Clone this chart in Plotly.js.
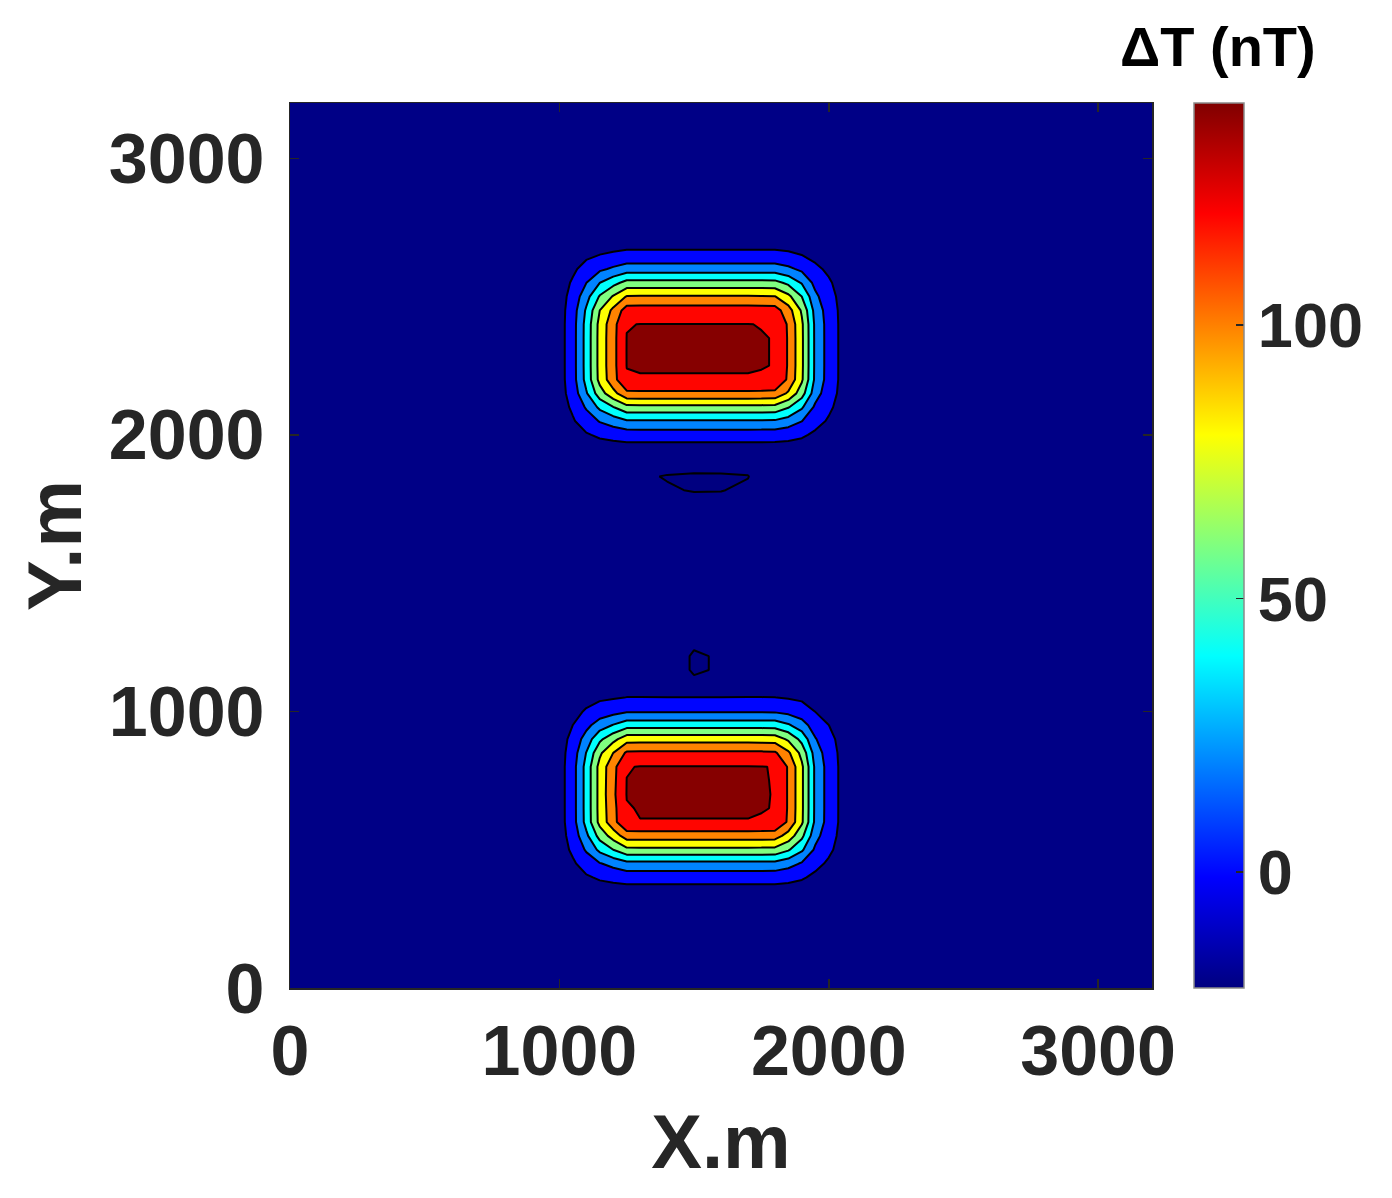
<!DOCTYPE html>
<html>
<head>
<meta charset="utf-8">
<script src="https://cdn.plot.ly/plotly-3.0.1.min.js"></script>
<style>
  html, body { margin: 0; padding: 0; background: #ffffff; }
  #chart { width: 1392px; height: 1198px; }
</style>
</head>
<body>
<div id="chart"></div>
<script>
// ---- data ----
// grid sample positions (m)
const xGrid = [0, 1000, 1050, 1100, 1150, 1200, 1250, 1300, 1400, 1500, 1600, 1700, 1750, 1800, 1850, 1900, 1950, 2000, 2050, 2100, 3200];
const yGrid = [0, 350, 400, 450, 500, 550, 600, 650, 700, 750, 800, 850, 900, 950, 1000, 1050,
               1100, 1150, 1200, 1250, 1300, 1750, 1800, 1850, 1900, 1950,
               2000, 2050, 2100, 2150, 2200, 2250, 2300, 2350, 2400, 2450, 2500, 2550, 2600, 2650, 2700, 3200];

// ΔT (nT), one row per yGrid value, one column per xGrid value
const deltaT = [
  [-8, -8, -8, -8, -8, -8, -8, -8, -8, -8, -8, -8, -8, -8, -8, -8, -8, -8, -8, -8, -8],
  [-8, -8, -8, -8, -8, -8, -8, -8, -8, -8, -8, -8, -8, -8, -8, -8, -8, -8, -8, -8, -8],
  [-8, -8, -5.9, -2.1, 2.2, 5.1, 7.9, 7.9, 7.9, 7.9, 7.9, 7.9, 7.9, 7.8, 5.5, 1.8, -3.3, -5.9, -7.7, -8, -8],
  [-8, -8, -2.4, 7.5, 18.8, 26.4, 33.8, 34, 34, 34, 34, 34, 33.9, 33.7, 27.5, 17.9, 4.4, -2.4, -7.2, -8, -8],
  [-8, -8, 3.1, 22.6, 44.9, 60, 74.6, 75, 75, 75, 75, 75, 74.7, 74.3, 62.2, 43.2, 16.5, 3.1, -6.3, -8, -8],
  [-8, -8, 7.8, 35.6, 67.2, 88.6, 109.5, 110, 110, 110, 110, 110, 109.6, 109, 91.8, 64.9, 26.8, 7.8, -5.6, -8, -8],
  [-8, -8, 11.8, 46.6, 86.2, 113, 139.1, 139.8, 139.8, 139.8, 139.8, 139.8, 139.3, 138.5, 117, 83.3, 35.6, 11.8, -5, -8, -8],
  [-8, -8, 12, 47, 87, 114, 139.3, 140.6, 140.6, 140.6, 140.6, 140.6, 140.4, 139.7, 118, 84, 36, 12, -5, -8, -8],
  [-8, -8, 12, 47, 87, 116, 140.5, 140.6, 140.6, 140.6, 140.6, 140.6, 140.4, 139.8, 118, 84, 36, 12, -5, -8, -8],
  [-8, -8, 12, 47, 87, 115, 140.2, 140.6, 140.6, 140.6, 140.6, 140.6, 140.4, 139.7, 118, 84, 36, 12, -5, -8, -8],
  [-8, -8, 12, 47, 87, 114, 139.3, 140.5, 140.6, 140.6, 140.6, 140.5, 140.3, 139.6, 118, 84, 36, 12, -5, -8, -8],
  [-8, -8, 9.7, 40.7, 76.2, 100.1, 123.4, 124, 124, 124, 124, 124, 123.6, 122.9, 103.6, 73.5, 31, 9.7, -5.3, -8, -8],
  [-8, -8, 5.4, 28.9, 55.7, 73.9, 91.5, 92, 92, 92, 92, 92, 91.6, 91.1, 76.5, 53.7, 21.5, 5.4, -6, -8, -8],
  [-8, -8, 0.1, 14.2, 30.3, 41.2, 51.8, 52, 52, 52, 52, 52, 51.8, 51.5, 42.8, 29.1, 9.7, 0.1, -6.8, -8, -8],
  [-8, -8, -4.5, 1.6, 8.5, 13.2, 17.8, 17.9, 17.9, 17.9, 17.9, 17.9, 17.8, 17.7, 13.9, 8, -0.3, -4.5, -7.5, -8, -8],
  [-8, -8, -6.9, -5, -2.9, -1.4, 0.3, 0.4, 0.4, 0.4, 0.4, 0.4, 0.3, 0.2, -1.2, -3, -5.6, -6.9, -7.8, -8, -8],
  [-8, -8, -8, -8, -8, -8, -8, -8, -12, -19, -16, -10, -8, -8, -8, -8, -8, -8, -8, -8, -8],
  [-8, -8, -8, -8, -8, -8, -8, -9, -17, -20.6, -19.5, -12, -8, -8, -8, -8, -8, -8, -8, -8, -8],
  [-8, -8, -8, -8, -8, -8, -8, -9, -17, -20.6, -19.5, -12, -8, -8, -8, -8, -8, -8, -8, -8, -8],
  [-8, -8, -8, -8, -8, -8, -8, -8, -12, -19.2, -16, -10, -8, -8, -8, -8, -8, -8, -8, -8, -8],
  [-8, -8, -8, -8, -8, -8, -8, -8, -8, -8, -8, -8, -8, -8, -8, -8, -8, -8, -8, -8, -8],
  [-8, -8, -8, -8, -8, -8, -8, -11, -14, -16, -16, -14, -10, -8, -8, -8, -8, -8, -8, -8, -8],
  [-8, -8, -8, -8, -8, -8, -10, -14, -19, -20.6, -20.4, -18, -13, -8, -8, -8, -8, -8, -8, -8, -8],
  [-8, -8, -8, -8, -8, -8, -12, -18.5, -20.6, -21.2, -21, -20.4, -15, -10, -8, -8, -8, -8, -8, -8, -8],
  [-8, -8, -8, -8, -8, -8, -9, -12, -15, -16, -16, -15, -11, -8, -8, -8, -8, -8, -8, -8, -8],
  [-8, -8, -8, -8, -8, -8, -8, -8, -8, -8, -8, -8, -8, -8, -8, -8, -8, -8, -8, -8, -8],
  [-8, -8, -5.7, -1.7, 2.8, 5.9, 8.9, 9, 9, 9, 9, 9, 8.9, 8.8, 6.4, 2.5, -3, -5.7, -7.7, -8, -8],
  [-8, -8, -1.8, 9, 21.4, 29.7, 37.8, 38, 38, 38, 38, 38, 37.9, 37.6, 30.9, 20.4, 5.6, -1.8, -7.1, -8, -8],
  [-8, -8, 3, 22.3, 44.3, 59.1, 73.6, 74, 74, 74, 74, 74, 73.7, 73.2, 61.3, 42.6, 16.2, 3, -6.3, -8, -8],
  [-8, -8, 8.6, 37.8, 71, 93.5, 115.4, 116, 116, 116, 116, 116, 115.6, 114.9, 96.8, 68.5, 28.6, 8.6, -5.5, -8, -8],
  [-8, -8, 11.8, 46.5, 86.1, 112.8, 138.8, 139.5, 139.5, 139.5, 139.5, 139.5, 139, 138.2, 116.7, 83.1, 35.6, 11.8, -5, -8, -8],
  [-8, -8, 12, 47, 87, 114, 140.3, 140.6, 140.6, 140.6, 140.6, 140.6, 140.4, 139.7, 118, 84, 36, 12, -5, -8, -8],
  [-8, -8, 12, 47, 87, 114, 140.4, 140.6, 140.6, 140.6, 140.6, 140.6, 140.4, 139.7, 118, 84, 36, 12, -5, -8, -8],
  [-8, -8, 12, 47, 87, 114, 140.3, 140.6, 140.5, 140.6, 140.5, 140.6, 140.4, 139.7, 118, 84, 36, 12, -5, -8, -8],
  [-8, -8, 11.9, 46.7, 86.5, 113.3, 139.5, 140.2, 140.2, 140.2, 140.2, 140.2, 139.7, 138.9, 117.3, 83.5, 35.8, 11.9, -5, -8, -8],
  [-8, -8, 10.5, 42.9, 80, 105, 129.3, 130, 130, 130, 130, 130, 129.5, 128.8, 108.7, 77.2, 32.7, 10.5, -5.2, -8, -8],
  [-8, -8, 6.8, 32.6, 62.1, 82, 101.4, 102, 102, 102, 102, 102, 101.6, 101, 85, 59.9, 24.5, 6.8, -5.8, -8, -8],
  [-8, -8, 2.1, 19.7, 39.8, 53.4, 66.6, 67, 67, 67, 67, 67, 66.7, 66.3, 55.4, 38.3, 14.1, 2.1, -6.5, -8, -8],
  [-8, -8, -2.9, 6, 16.2, 23.1, 29.8, 30, 30, 30, 30, 30, 29.9, 29.7, 24.1, 15.5, 3.2, -2.9, -7.2, -8, -8],
  [-8, -8, -6.3, -3.2, 0.3, 2.6, 4.9, 5, 5, 5, 5, 5, 4.9, 4.9, 3, 0.1, -4.2, -6.3, -7.7, -8, -8],
  [-8, -8, -8, -8, -8, -8, -8, -8, -8, -8, -8, -8, -8, -8, -8, -8, -8, -8, -8, -8, -8],
  [-8, -8, -8, -8, -8, -8, -8, -8, -8, -8, -8, -8, -8, -8, -8, -8, -8, -8, -8, -8, -8]
];

// contour levels and colour-bar range
const levelStart = -20, levelEnd = 140, levelStep = 20;
const cbMin = -21.2, cbMax = 140.6;
const axisTicks = [0, 1000, 2000, 3000];
const cbTicks = [0, 50, 100];

// ---- styles ----
// fill colour of each band (below -20, then -20..0, 0..20, ... , >140), MATLAB jet
const bandColors = ['rgb(0,0,128)', 'rgb(0,0,134)', 'rgb(0,5,255)', 'rgb(0,131,255)', 'rgb(2,255,253)',
                    'rgb(128,255,128)', 'rgb(253,255,2)', 'rgb(255,131,0)', 'rgb(255,5,0)', 'rgb(134,0,0)'];
const jet = [[0, 'rgb(0,0,128)'], [0.125, 'rgb(0,0,255)'], [0.375, 'rgb(0,255,255)'],
             [0.625, 'rgb(255,255,0)'], [0.875, 'rgb(255,0,0)'], [1, 'rgb(128,0,0)']];
const bandScale = bandColors.map((c, i) => [i / (bandColors.length - 1), c]);

const FONT = 'Liberation Sans, Arial, Helvetica, sans-serif';
const INK = '#262626';

const colorbarTrace = {
  type: 'heatmap', x: xGrid, y: yGrid, z: deltaT,
  zmin: cbMin, zmax: cbMax, colorscale: jet, opacity: 0, hoverinfo: 'skip',
  showscale: true,
  colorbar: {
    x: (1194 - 290) / 862, xanchor: 'left', xpad: 0,
    y: 0.5, yanchor: 'middle', ypad: 0,
    thickness: 50, thicknessmode: 'pixels',
    len: 885, lenmode: 'pixels',
    outlinewidth: 1.5, outlinecolor: '#8a8a8a',
    ticks: 'inside', ticklen: 8, tickwidth: 1.5, tickcolor: INK,
    tickmode: 'array', tickvals: cbTicks,
    tickfont: { family: FONT, size: 63, color: INK, weight: 'bold' },
    ticklabelposition: 'outside'
  }
};

const contourTrace = {
  type: 'contour', x: xGrid, y: yGrid, z: deltaT,
  autocontour: false,
  contours: { start: levelStart, end: levelEnd, size: levelStep, coloring: 'fill', showlines: true },
  colorscale: bandScale, showscale: false,
  line: { color: '#000000', width: 2, smoothing: 0 },
  hoverinfo: 'x+y+z'
};

const axisCommon = {
  range: [0, 3200], tickmode: 'array', tickvals: axisTicks,
  ticks: 'inside', ticklen: 9, tickwidth: 1.5, tickcolor: INK,
  showline: true, linecolor: INK, linewidth: 1.5, mirror: 'ticks',
  showgrid: false, zeroline: false,
  tickfont: { family: FONT, size: 70, color: INK, weight: 'bold' }
};

const layout = {
  width: 1392, height: 1198,
  margin: { l: 290, r: 240, t: 103, b: 210, pad: 0 },
  paper_bgcolor: '#ffffff', plot_bgcolor: 'rgb(0,0,128)',
  showlegend: false,
  font: { family: FONT, color: INK },
  xaxis: Object.assign({}, axisCommon, {
    ticklabelstandoff: 1,
    title: { text: 'X.m', font: { family: FONT, size: 76, color: INK, weight: 'bold' }, standoff: 26 }
  }),
  yaxis: Object.assign({}, axisCommon, {
    ticklabelstandoff: 10,
    title: { text: 'Y.m', font: { family: FONT, size: 76, color: INK, weight: 'bold' }, standoff: 2 }
  }),
  annotations: [{
    text: 'ΔT (nT)', xref: 'paper', yref: 'paper',
    x: (1218 - 290) / 862, y: (988 - 47) / 885, xanchor: 'center', yanchor: 'middle',
    showarrow: false, font: { family: FONT, size: 56, color: '#000000', weight: 'bold' }
  }]
};

Plotly.newPlot('chart', [colorbarTrace, contourTrace], layout, { displayModeBar: false, staticPlot: true });
</script>
</body>
</html>
